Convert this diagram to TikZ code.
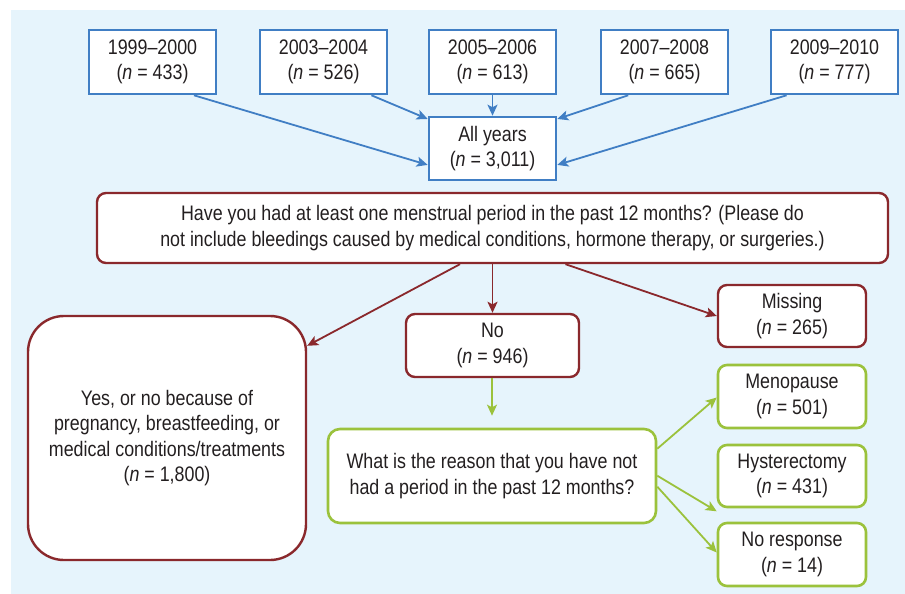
\documentclass[tikz,border=0pt]{standalone}
\usepackage{fontspec}
\setmainfont{Liberation Sans}[FakeStretch=0.85]
\usetikzlibrary{arrows.meta,calc}
\definecolor{bgblue}{RGB}{230,244,252}
\definecolor{myblue}{RGB}{64,126,196}
\definecolor{myred}{RGB}{138,40,44}
\definecolor{mygreen}{RGB}{155,194,60}
\definecolor{txt}{RGB}{35,31,32}
\tikzset{
  box/.style={fill=white, align=center, inner sep=0pt, text=txt},
  bluebox/.style={box, draw=myblue, line width=2.6pt, minimum width=127pt, minimum height=64pt},
  redbox/.style={box, draw=myred, line width=2.4pt, rounded corners=9pt},
  greenbox/.style={box, draw=mygreen, line width=2.6pt, rounded corners=9pt},
  tip/.style={-{Stealth[length=11pt,width=10pt,inset=2.5pt]}},
  bluearrow/.style={tip, draw=myblue, line width=1.8pt},
  redarrow/.style={tip, draw=myred, line width=1.8pt},
  greenarrow/.style={tip, draw=mygreen, line width=1.8pt},
}
\begin{document}
\begin{tikzpicture}[x=1pt,y=-1pt,font=\fontsize{21}{25.5}\selectfont]
\useasboundingbox (0,0) rectangle (905,594);
\fill[bgblue] (11,10) rectangle (905,594);

% top row
\node[bluebox] (b1) at (152.5,62) {1999--2000\\(\textit{n} = 433)};
\node[bluebox] (b2) at (323.5,62) {2003--2004\\(\textit{n} = 526)};
\node[bluebox] (b3) at (492.5,62) {2005--2006\\(\textit{n} = 613)};
\node[bluebox] (b4) at (664.5,62) {2007--2008\\(\textit{n} = 665)};
\node[bluebox] (b5) at (834.5,62) {2009--2010\\(\textit{n} = 777)};
\node[bluebox, minimum height=63pt] (all) at (492.5,148.5) {All years\\(\textit{n} = 3,011)};

\draw[bluearrow] ($(b1.south west)!0.82!(b1.south east)$) -- ($(all.north west)!0.75!(all.south west)$);
\draw[bluearrow] ($(b2.south west)!0.87!(b2.south east)$) -- ($(all.north west)!0.05!(all.south west)$);
\draw[bluearrow] (b3.south) -- (all.north);
\draw[bluearrow] ($(b4.south west)!0.22!(b4.south east)$) -- ($(all.north east)!0.05!(all.south east)$);
\draw[bluearrow] ($(b5.south west)!0.13!(b5.south east)$) -- ($(all.north east)!0.75!(all.south east)$);

% question
\node[redbox, minimum width=791pt, minimum height=70pt] (q) at (492.5,228)
  {Have you had at least one menstrual period in the past 12 months? (Please do\\
   not include bleedings caused by medical conditions, hormone therapy, or surgeries.)};

\node[redbox, rounded corners=36pt, minimum width=278pt, minimum height=244pt] (yes) at (167,438)
  {Yes, or no because of\\pregnancy, breastfeeding, or\\medical conditions/treatments\\(\textit{n} = 1,800)};
\node[redbox, minimum width=173pt, minimum height=63pt] (no) at (492.5,345.5) {No\\(\textit{n} = 946)};
\node[redbox, minimum width=148pt, minimum height=62pt] (miss) at (792,316) {Missing\\(\textit{n} = 265)};

\draw[redarrow] ($(q.south west)!0.459!(q.south east)$) -- ($(yes.north east)+(0,31)$);
\draw[redarrow] (q.south -| no.north) -- (no.north);
\draw[redarrow] ($(q.south west)!0.592!(q.south east)$) -- (miss.west);

% reason
\node[greenbox, rounded corners=12pt, minimum width=328pt, minimum height=94pt] (what) at (492,476)
  {What is the reason that you have not\\had a period in the past 12 months?};
\node[greenbox, minimum width=148pt, minimum height=63pt] (meno) at (792,396.5) {Menopause\\(\textit{n} = 501)};
\node[greenbox, minimum width=148pt, minimum height=62pt] (hyst) at (792,476) {Hysterectomy\\(\textit{n} = 431)};
\node[greenbox, minimum width=148pt, minimum height=63pt] (nore) at (792,554.5) {No response\\(\textit{n} = 14)};

\draw[greenarrow, shorten >=12pt] (no.south -| what.north) -- (what.north);
\draw[greenarrow] ($(what.north east)+(0,21)$) -- ($(meno.west)+(0,1)$);
\draw[greenarrow] ($(what.north east)+(0,48)$) -- ($(hyst.south west)+(0,3)$);
\draw[greenarrow] ($(what.north east)+(0,59)$) -- ($(nore.west)+(0,-2)$);
\end{tikzpicture}
\end{document}
